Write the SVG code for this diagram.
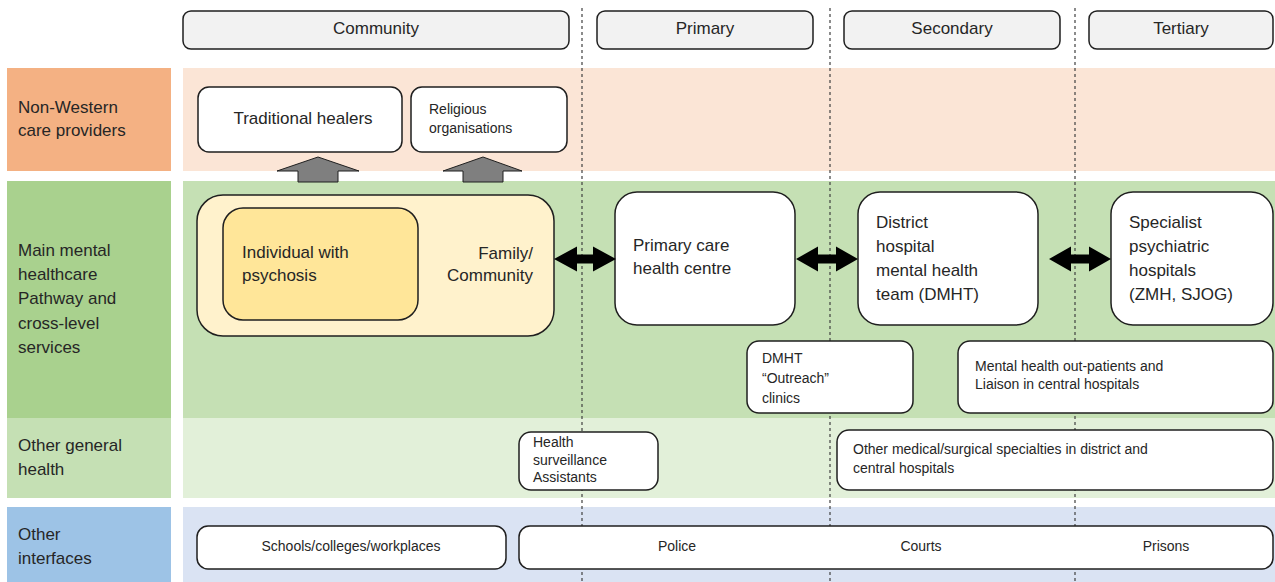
<svg xmlns="http://www.w3.org/2000/svg" width="1275" height="582" viewBox="0 0 1275 582">
<style>
text{font-family:"Liberation Sans",Arial,sans-serif;fill:#262626}
.big{font-size:17px}
.sm{font-size:14px}
.mid{text-anchor:middle}
.end{text-anchor:end}
.box{fill:#fff;stroke:#1f1f1f;stroke-width:1.5}
.hdr{fill:#f2f2f2;stroke:#1f1f1f;stroke-width:1.5}
.dot{stroke:#404040;stroke-width:1.2;stroke-dasharray:3 3;fill:none}
.dbl{fill:#000}
.up{fill:#7f7f7f;stroke:#1f1f1f;stroke-width:1}
</style>
<rect width="1275" height="582" fill="#fff"/>
<g id="bands">
<rect x="7" y="68" width="164" height="103" fill="#f4b183"/>
<rect x="183" y="68" width="1092" height="103" fill="#fbe5d6"/>
<rect x="7" y="181" width="164" height="237" fill="#a9d18e"/>
<rect x="183" y="181" width="1092" height="237" fill="#c5e0b4"/>
<rect x="7" y="418" width="164" height="80" fill="#c5e0b4"/>
<rect x="183" y="418" width="1092" height="80" fill="#e2f0d9"/>
<rect x="7" y="507" width="164" height="75" fill="#9dc3e6"/>
<rect x="183" y="507" width="1092" height="75" fill="#dae3f3"/>
</g>
<g id="row-labels">
<text class="big" x="18" y="113">Non-Western</text>
<text class="big" x="18" y="136">care providers</text>
<text class="big" x="18" y="256">Main mental</text>
<text class="big" x="18" y="280">healthcare</text>
<text class="big" x="18" y="304">Pathway and</text>
<text class="big" x="18" y="329">cross-level</text>
<text class="big" x="18" y="353">services</text>
<text class="big" x="18" y="451">Other general</text>
<text class="big" x="18" y="475">health</text>
<text class="big" x="18" y="540">Other</text>
<text class="big" x="18" y="564">interfaces</text>
</g>
<g id="dividers">
<line class="dot" x1="582" y1="8" x2="582" y2="582"/>
<line class="dot" x1="830" y1="8" x2="830" y2="582"/>
<line class="dot" x1="1075" y1="8" x2="1075" y2="582"/>
</g>
<g id="header-community"><rect class="hdr" x="183" y="11" width="386" height="38" rx="8"/><text class="big mid" x="376" y="34">Community</text></g>
<g id="header-primary"><rect class="hdr" x="597" y="11" width="216" height="38" rx="8"/><text class="big mid" x="705" y="34">Primary</text></g>
<g id="header-secondary"><rect class="hdr" x="844" y="11" width="216" height="38" rx="8"/><text class="big mid" x="952" y="34">Secondary</text></g>
<g id="header-tertiary"><rect class="hdr" x="1089" y="11" width="184" height="38" rx="8"/><text class="big mid" x="1181" y="34">Tertiary</text></g>
<g id="traditional-healers"><rect class="box" x="198" y="87" width="204" height="65" rx="11"/><text class="big mid" x="303" y="124">Traditional healers</text></g>
<g id="religious-organisations"><rect class="box" x="411" y="87" width="156" height="65" rx="11"/><text class="sm" x="429" y="114">Religious</text><text class="sm" x="429" y="133">organisations</text></g>
<g id="family-community"><rect x="197" y="195" width="357" height="141" rx="26" fill="#fff2cc" stroke="#1f1f1f" stroke-width="1.5"/><text class="big end" x="533" y="259">Family/</text><text class="big end" x="533" y="281">Community</text></g>
<g id="individual"><rect x="223" y="208" width="195" height="112" rx="20" fill="#ffe699" stroke="#1f1f1f" stroke-width="1.5"/><text class="big" x="242" y="258">Individual with</text><text class="big" x="242" y="281">psychosis</text></g>
<g id="primary-care"><rect class="box" x="615" y="192" width="180" height="133" rx="22"/><text class="big" x="633" y="251">Primary care</text><text class="big" x="633" y="274">health centre</text></g>
<g id="dmht"><rect class="box" x="858" y="192" width="180" height="133" rx="22"/><text class="big" x="876" y="228">District</text><text class="big" x="876" y="252">hospital</text><text class="big" x="876" y="276">mental health</text><text class="big" x="876" y="300">team (DMHT)</text></g>
<g id="specialist"><rect class="box" x="1111" y="192" width="162" height="133" rx="22"/><text class="big" x="1129" y="228">Specialist</text><text class="big" x="1129" y="252">psychiatric</text><text class="big" x="1129" y="276">hospitals</text><text class="big" x="1129" y="300">(ZMH, SJOG)</text></g>
<g id="outreach"><rect class="box" x="747" y="341" width="166" height="72" rx="12"/><text class="sm" x="762" y="363">DMHT</text><text class="sm" x="762" y="383">“Outreach”</text><text class="sm" x="762" y="403">clinics</text></g>
<g id="outpatients"><rect class="box" x="958" y="341" width="315" height="72" rx="12"/><text class="sm" x="975" y="371">Mental health out-patients and</text><text class="sm" x="975" y="389">Liaison in central hospitals</text></g>
<g id="health-surveillance"><rect class="box" x="519" y="432" width="139" height="58" rx="12"/><text class="sm" x="533" y="447">Health</text><text class="sm" x="533" y="465">surveillance</text><text class="sm" x="533" y="482">Assistants</text></g>
<g id="other-specialties"><rect class="box" x="837" y="430" width="436" height="60" rx="12"/><text class="sm" x="853" y="454">Other medical/surgical specialties in district and</text><text class="sm" x="853" y="473">central hospitals</text></g>
<g id="schools"><rect class="box" x="197" y="526" width="309" height="43" rx="11"/><text class="sm mid" x="351" y="551">Schools/colleges/workplaces</text></g>
<g id="police-courts-prisons"><rect class="box" x="519" y="526" width="754" height="43" rx="11"/><text class="sm mid" x="677" y="551">Police</text><text class="sm mid" x="921" y="551">Courts</text><text class="sm mid" x="1166" y="551">Prisons</text></g>
<g id="connectors">
<path class="up" d="M318,157 L359,171 L338,171 L338,182 L298,182 L298,171 L277,171 Z"/>
<path class="up" d="M483,157 L522,171 L503,171 L503,182 L463,182 L463,171 L443,171 Z"/>
<path class="dbl" d="M554,259 L577,246.5 L577,254.5 L593,254.5 L593,246.5 L616,259 L593,271.5 L593,263.5 L577,263.5 L577,271.5 Z"/>
<path class="dbl" d="M796,259 L818,246.5 L818,254.5 L836,254.5 L836,246.5 L858,259 L836,271.5 L836,263.5 L818,263.5 L818,271.5 Z"/>
<path class="dbl" d="M1049,259 L1071,246.5 L1071,254.5 L1089,254.5 L1089,246.5 L1111,259 L1089,271.5 L1089,263.5 L1071,263.5 L1071,271.5 Z"/>
</g>
</svg>
